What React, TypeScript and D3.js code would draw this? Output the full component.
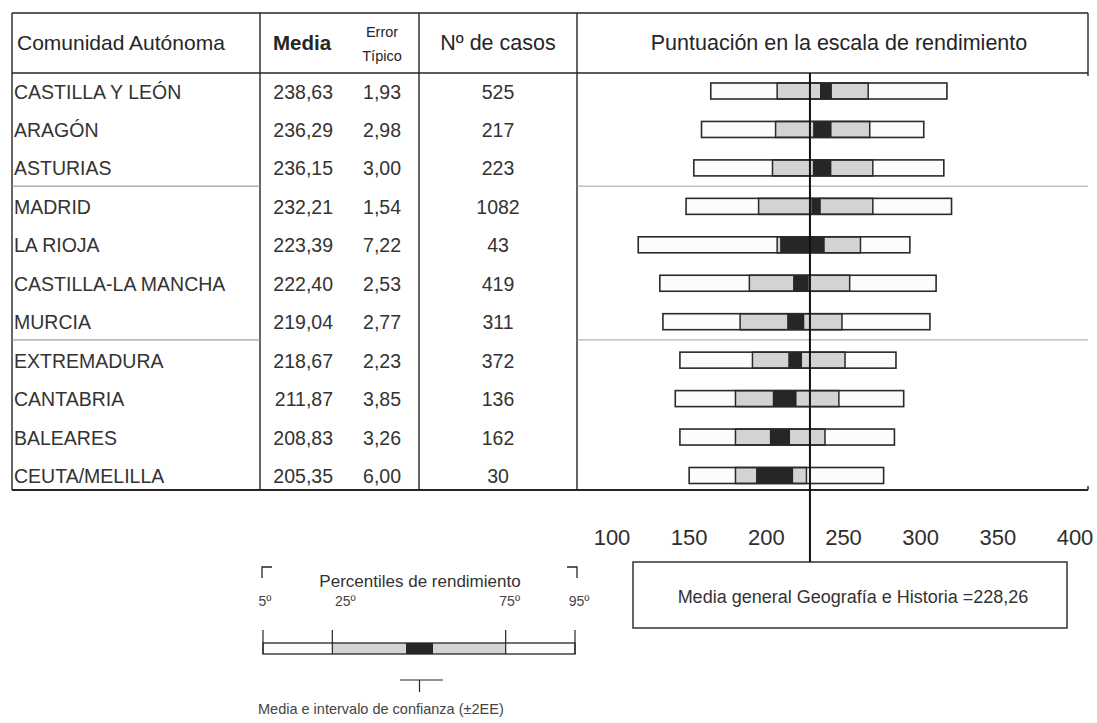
import * as d3 from "d3";

const communities = [
  "CASTILLA Y LEÓN",
  "ARAGÓN",
  "ASTURIAS",
  "MADRID",
  "LA RIOJA",
  "CASTILLA-LA MANCHA",
  "MURCIA",
  "EXTREMADURA",
  "CANTABRIA",
  "BALEARES",
  "CEUTA/MELILLA",
];
const means = [238.63, 236.29, 236.15, 232.21, 223.39, 222.4, 219.04, 218.67, 211.87, 208.83, 205.35];
const stdErrors = [1.93, 2.98, 3.0, 1.54, 7.22, 2.53, 2.77, 2.23, 3.85, 3.26, 6.0];
const cases = [525, 217, 223, 1082, 43, 419, 311, 372, 136, 162, 30];
// percentiles
const p5 = [164, 158, 153, 148, 117, 131, 133, 144, 141, 144, 150];
const p25 = [207, 206, 204, 195, 207, 189, 183, 191, 180, 180, 180];
const p75 = [266, 267, 269, 269, 261, 254, 249, 251, 247, 238, 226];
const p95 = [317, 302, 315, 320, 293, 310, 306, 284, 289, 283, 276];

const scaleTicks = [100, 150, 200, 250, 300, 350, 400];
const overallMean = 228.26;
const groupBreaks = [2, 6]; // faint line after ASTURIAS and MURCIA

const font = "'Liberation Sans', Arial, Helvetica, sans-serif";
const ink = "#262626";

const esLocale = d3.formatLocale({ decimal: ",", thousands: ".", grouping: [3], currency: ["", "€"] });
const fmt2 = esLocale.format(".2f");

const App = () => {
  const width = 1097;
  const height = 723;

  const top = 13;
  const headerBottom = 73;
  const tableBottom = 490;
  const colX = [12, 260, 419, 577, 1088];

  const xScale = d3.scaleLinear().domain([100, 400]).range([612, 1075]);
  const yScale = d3.scalePoint<string>().domain(communities).range([91, 475.5]);
  const barH = 16;
  const meanX = xScale(overallMean);

  // legend geometry
  const legend = d3.scaleLinear().domain([5, 95]).range([263, 575]);
  const legendTicks = [5, 25, 75, 95];
  const legendBarY = 643;
  const legendBarH = 11;

  return (
    <div style={{ position: "absolute", left: 0, top: 0 }}>
      <svg width={width} height={height} style={{ display: "block", background: "#fff", fontFamily: font }}>
        {/* table frame */}
        <line x1={colX[0]} x2={colX[4]} y1={top} y2={top} stroke={ink} strokeWidth={1.6} />
        <line x1={colX[0]} x2={colX[4]} y1={headerBottom} y2={headerBottom} stroke={ink} strokeWidth={1.6} />
        <line x1={colX[0]} x2={colX[4]} y1={tableBottom} y2={tableBottom} stroke={ink} strokeWidth={1.8} />
        {colX.slice(0, 4).map((x) => (
          <line key={x} x1={x} x2={x} y1={top} y2={tableBottom} stroke={ink} strokeWidth={1.4} />
        ))}
        <line x1={colX[4]} x2={colX[4]} y1={top} y2={headerBottom + 3} stroke={ink} strokeWidth={1.4} />
        <line x1={colX[4]} x2={colX[4]} y1={tableBottom - 4} y2={tableBottom} stroke={ink} strokeWidth={1.4} />

        {groupBreaks.map((i) => {
          const y = (yScale(communities[i])! + yScale(communities[i + 1])!) / 2 - 1;
          return (
            <g key={i}>
              <line x1={colX[0]} x2={colX[1]} y1={y} y2={y} stroke="#8a8a8a" strokeWidth={1} />
              <line x1={colX[3]} x2={colX[4]} y1={y} y2={y} stroke="#a0a0a0" strokeWidth={1} />
            </g>
          );
        })}

        {/* header */}
        <text x={17} y={50} fontSize={21} fill={ink}>Comunidad Autónoma</text>
        <text x={302} y={50} fontSize={20.5} fontWeight="bold" fill={ink} textAnchor="middle">Media</text>
        <text x={382} y={37} fontSize={14.5} fill={ink} textAnchor="middle">Error</text>
        <text x={382} y={61} fontSize={14.5} fill={ink} textAnchor="middle">Típico</text>
        <text x={(colX[2] + colX[3]) / 2} y={50} fontSize={21.5} fill={ink} textAnchor="middle">Nº de casos</text>
        <text x={839} y={50} fontSize={21.5} fill={ink} textAnchor="middle">Puntuación en la escala de rendimiento</text>

        {/* rows */}
        {communities.map((name, i) => {
          const y = yScale(name)!;
          return (
            <g key={name} fontSize={19.5} fill="#333">
              <text x={14} y={y + 7.5}>{name}</text>
              <text x={333} y={y + 7.5} textAnchor="end">{fmt2(means[i])}</text>
              <text x={401} y={y + 7.5} textAnchor="end">{fmt2(stdErrors[i])}</text>
              <text x={(colX[2] + colX[3]) / 2} y={y + 7.5} textAnchor="middle">{cases[i]}</text>
            </g>
          );
        })}

        {/* bars */}
        {communities.map((name, i) => {
          const y = yScale(name)! - barH / 2;
          const lo = means[i] - 2 * stdErrors[i];
          const hi = means[i] + 2 * stdErrors[i];
          return (
            <g key={name}>
              <rect x={xScale(p5[i])} y={y} width={xScale(p95[i]) - xScale(p5[i])} height={barH} fill="#fcfcfc" />
              <rect x={xScale(p25[i])} y={y} width={xScale(p75[i]) - xScale(p25[i])} height={barH} fill="#d3d3d3" stroke="#2a2a2a" strokeWidth={1.5} />
              <rect x={xScale(lo)} y={y} width={xScale(hi) - xScale(lo)} height={barH} fill="#262626" />
              <rect x={xScale(p5[i])} y={y} width={xScale(p95[i]) - xScale(p5[i])} height={barH} fill="none" stroke="#2a2a2a" strokeWidth={1.6} />
            </g>
          );
        })}

        {/* overall mean line */}
        <line x1={meanX} x2={meanX} y1={headerBottom} y2={562} stroke="#111" strokeWidth={2} />

        {/* scale labels */}
        {scaleTicks.map((t) => (
          <text key={t} x={xScale(t)} y={545} fontSize={22} fill="#2e2e2e" textAnchor="middle">{t}</text>
        ))}

        {/* overall mean box */}
        <rect x={633} y={562} width={434} height={66} fill="#fff" stroke={ink} strokeWidth={1.4} />
        <text x={853} y={603} fontSize={18} fill="#333" textAnchor="middle">
          Media general Geografía e Historia ={fmt2(overallMean)}
        </text>

        {/* legend */}
        <path d="M262,578 V567 H272" fill="none" stroke={ink} strokeWidth={1.3} />
        <path d="M567,567 H577 V578" fill="none" stroke={ink} strokeWidth={1.3} />
        <text x={420} y={587} fontSize={17} fill="#333" textAnchor="middle">Percentiles de rendimiento</text>
        <rect x={legend(5)} y={legendBarY} width={legend(95) - legend(5)} height={legendBarH} fill="#fcfcfc" />
        <rect x={legend(25)} y={legendBarY} width={legend(75) - legend(25)} height={legendBarH} fill="#d3d3d3" />
        <rect x={406} y={legendBarY} width={27} height={legendBarH} fill="#262626" />
        <rect x={legend(5)} y={legendBarY} width={legend(95) - legend(5)} height={legendBarH} fill="none" stroke={ink} strokeWidth={1.3} />
        {legendTicks.map((t) => (
          <g key={t}>
            <line x1={legend(t)} x2={legend(t)} y1={630} y2={legendBarY + legendBarH} stroke={ink} strokeWidth={1.2} />
            <text x={legend(t) + (t === 5 ? 2 : t === 25 ? 13 : 4)} y={606} fontSize={14} fill="#444" textAnchor="middle">{t}º</text>
          </g>
        ))}
        <line x1={400} x2={443} y1={680} y2={680} stroke={ink} strokeWidth={1.2} />
        <line x1={419.5} x2={419.5} y1={680} y2={692} stroke={ink} strokeWidth={1.2} />
        <text x={258} y={714} fontSize={14.5} fill="#444">Media e intervalo de confianza (±2EE)</text>
      </svg>
    </div>
  );
};

export default App;
